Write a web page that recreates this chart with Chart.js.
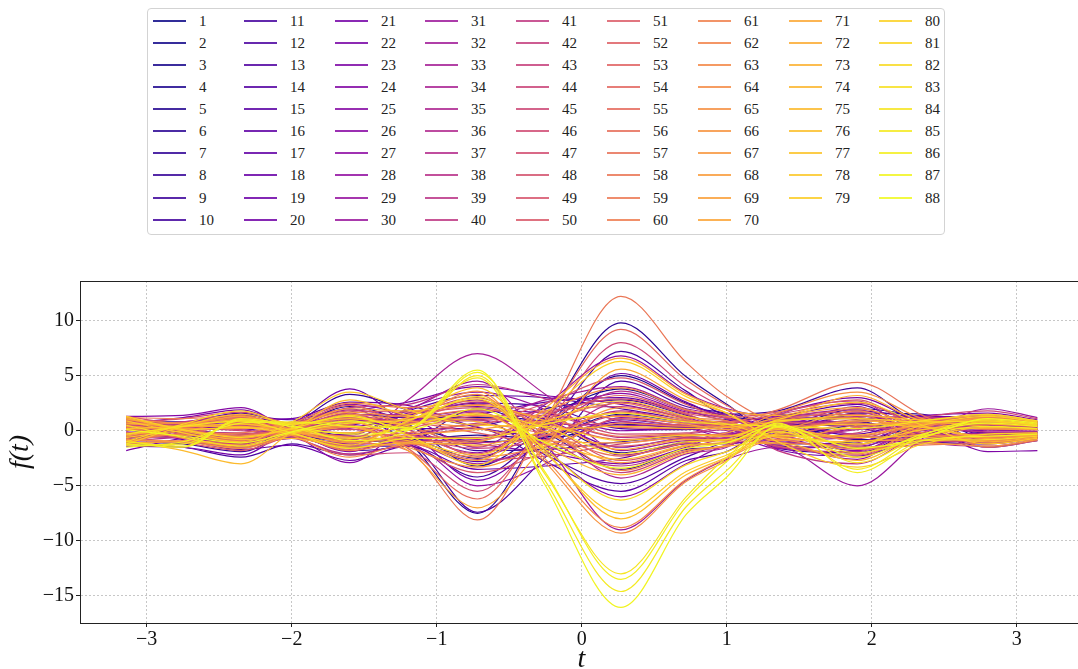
<!DOCTYPE html>
<html><head><meta charset="utf-8">
<script src="https://cdn.jsdelivr.net/npm/chart.js@4.4.1/dist/chart.umd.min.js"></script>
<style>
html,body{margin:0;padding:0;background:#fff;width:1078px;height:669px;overflow:hidden;}
#wrap{position:absolute;left:0;top:0;width:1100px;height:669px;}
#legend{position:absolute;left:147px;top:8px;width:798px;height:227px;border:1px solid #d3d3d3;border-radius:4px;background:#fff;font-family:'Liberation Serif',serif;font-size:15px;color:#222;box-sizing:border-box;}
.li{position:absolute;height:22px;width:88px;}
.ln{position:absolute;left:0;top:11px;width:33px;height:2px;opacity:0.85;}
.lt{position:absolute;left:46px;top:1px;line-height:22px;white-space:nowrap;}
</style></head><body>
<div id="wrap"><canvas id="c" width="1100" height="669"></canvas></div>
<div id="legend"></div>
<script>
// knot positions along t
const tKnots = [-3.1416,-2.75,-2.35,-2.0,-1.6,-1.2,-0.72,-0.25,0.27,0.72,1.0,1.35,1.9,2.35,2.8,3.1416];
const xTicks = [-3,-2,-1,0,1,2,3];
const yTicks = [-15,-10,-5,0,5,10];
const seriesLabels = ['1','2','3','4','5','6','7','8','9','10','11','12','13','14','15','16','17','18','19','20','21','22','23','24','25','26','27','28','29','30','31','32','33','34','35','36','37','38','39','40','41','42','43','44','45','46','47','48','49','50','51','52','53','54','55','56','57','58','59','60','61','62','63','64','65','66','67','68','69','70','71','72','73','74','75','76','77','78','79','80','81','82','83','84','85','86','87','88'];

const f1 = [0.2,-0.2,-0.6,0.1,0.8,0.4,-1.0,-0.6,1.5,0.8,0.6,-0.5,0.5,0.6,0.3,0.2];
const f2 = [-0.6,0.3,0.9,-0.2,-1.0,-0.9,-2.5,1.2,3.8,1.9,1.0,1.1,1.2,-0.4,-0.5,-0.3];
const f3 = [0.9,-0.3,-1.2,0.1,1.5,1.2,1.2,0.8,-2.0,-1.0,-0.5,-1.2,-1.0,0.5,0.8,0.5];
const f4 = [-0.3,0.1,0.4,0.2,-0.5,-0.8,-0.4,-0.7,0.6,0.3,0.4,0.3,2.0,1.2,-0.9,-0.6];
const f5 = [0.5,-0.6,-1.5,0.2,2.2,0.6,-3.2,0.3,5.0,2.5,1.3,0.9,-0.8,-0.8,0.6,0.4];
const f6 = [-0.5,-0.6,-0.8,0.1,1.0,-1.0,-7.5,0.8,9.8,4.9,2.4,-0.4,1.6,1.5,-0.7,-0.4];
const f7 = [0.8,0.8,1.1,-0.2,-1.8,-1.2,2.0,-0.2,-3.5,-1.7,-1.4,0.8,0.8,-0.3,1.0,0.6];
const f8 = [-1.0,-1.2,-1.9,0.4,3.3,1.9,0.5,2.0,2.8,1.4,0.3,-1.4,-1.5,0.4,-0.2,-0.1];
const f9 = [0.4,0.4,0.6,-0.1,-0.8,0.3,-1.8,-1.7,-1.0,-0.5,-0.8,1.5,1.0,-0.9,-1.2,-0.7];
const f10 = [-0.8,0.6,1.6,0.1,-1.4,-1.4,-4.2,0.2,7.2,3.6,1.5,1.8,3.9,0.9,0.9,0.5];
const f11 = [1.1,0.2,-0.3,0.1,0.5,1.4,2.5,2.2,0.2,0.1,0.5,-1.6,-2.0,0.4,1.3,0.8];
const f12 = [-1.2,-1.5,-2.4,-1.2,-2.2,-1.3,-7.4,-2.4,4.5,2.2,1.6,0.7,0.3,-1.1,-0.8,-0.5];
const f13 = [0.0,0.4,0.8,0.6,1.2,0.9,1.0,-2.2,-4.8,-2.4,-1.0,-0.3,1.8,1.1,0.5,0.3];
const f14 = [0.6,-0.3,-0.9,-0.4,-0.3,1.8,3.2,3.0,2.0,1.0,0.2,-1.0,-1.2,-0.2,-1.5,-0.9];
const f15 = [-0.4,0.6,1.4,1.0,2.0,0.2,0.2,-2.8,-5.5,-2.7,-1.9,0.5,-0.5,-0.6,1.1,0.7];
const f16 = [1.2,0.1,-0.5,-0.6,-1.5,-1.1,-2.8,-1.5,1.0,0.5,0.9,1.3,2.4,0.1,0.2,0.1];
const f17 = [-0.9,0.0,0.5,0.4,0.9,1.0,1.5,2.6,3.0,1.5,0.4,0.6,-0.3,1.0,-0.4,-0.2];
const f18 = [0.3,-0.8,-1.7,-1.3,-2.7,-1.4,-3.5,-3.2,-2.5,-1.2,-1.2,-0.2,1.4,0.3,0.7,0.4];
const f19 = [-0.2,0.4,1.0,1.1,2.6,2.3,0.3,-0.4,0.8,0.4,0.6,-1.7,-2.3,-0.8,-1.0,-0.6];
const f20 = [-1.4,-1.5,-2.2,0.5,3.8,0.3,-4.5,-0.6,5.2,2.6,1.1,0.2,0.9,1.3,1.2,0.7];
const f21 = [1.0,0.4,0.2,-0.3,-0.7,1.6,2.2,1.0,-1.5,-0.7,-0.9,0.4,-0.9,-1.0,-0.3,-0.2];
const f22 = [-1.8,-0.7,-0.4,0.4,1.7,2.6,4.0,3.2,2.4,1.2,0.3,1.6,3.0,0.8,0.4,0.2];
const f23 = [0.7,1.2,1.9,0.0,-1.9,-0.4,-1.2,-2.0,-3.0,-1.5,-0.3,-1.3,0.2,0.2,-1.9,-1.8];
const f24 = [-0.1,-0.6,-1.1,-0.3,0.3,1.1,1.8,1.6,0.0,0.2,-0.6,1.2,1.1,1.4,1.6,1.0];
const f25 = [1.3,1.4,2.1,-0.2,-2.9,0.6,2.8,-1.8,-6.0,-3.0,-1.3,-0.9,-1.8,0.3,0.0,0.1];
const f26 = [-0.7,0.1,0.7,0.5,1.1,-0.2,-2.0,1.3,3.4,1.7,1.2,0.5,2.2,-0.6,-0.6,-0.4];
const f27 = [0.5,-0.5,-1.3,-0.7,-1.2,-1.2,-5.0,-3.0,1.2,0.6,0.0,-1.6,-1.1,0.8,1.4,0.8];
const f28 = [-0.3,0.1,0.3,0.8,2.4,1.3,-1.5,2.4,6.8,3.4,2.0,1.3,1.5,-0.3,-1.1,-0.7];
const f29 = [0.9,-0.1,-0.7,-0.3,-0.4,2.0,3.5,1.9,-2.2,-1.1,-0.2,-1.1,-2.6,0.6,0.9,0.5];
const f30 = [-1.1,0.3,1.2,0.5,0.6,1.9,4.5,-1.2,-9.0,-4.5,-2.6,-1.5,-5.0,-0.7,2.0,1.2];
const f31 = [0.1,-0.1,-0.2,-0.5,-1.6,-0.9,-0.8,0.6,0.5,0.3,-0.3,0.9,0.6,-0.6,-0.8,-0.5];
const f32 = [1.2,-0.4,-1.6,0.1,1.9,1.2,1.0,2.8,4.0,2.0,1.4,-0.3,-1.4,0.0,0.4,0.2];
const f33 = [-0.6,0.3,0.9,0.0,-0.9,2.8,7.0,3.3,-1.8,-0.9,-0.8,1.0,1.9,-0.4,-0.2,-0.1];
const f34 = [0.3,0.8,1.5,0.5,0.2,-0.8,-3.0,-0.9,2.6,1.3,0.5,-0.8,-0.6,1.1,1.0,0.6];
const f35 = [-1.0,-0.6,-0.6,0.2,1.4,1.5,2.6,0.4,-4.3,-2.1,-1.5,1.4,2.7,-0.9,-1.4,-0.8];
const f36 = [0.8,0.3,0.1,-0.6,-2.1,-1.3,-1.1,-0.5,1.8,0.9,0.8,-0.6,0.1,0.7,0.6,0.4];
const f37 = [-0.2,-0.6,-1.0,-0.2,0.4,-0.3,0.7,0.9,-0.6,-0.3,0.1,-1.5,-1.9,0.2,-0.1,-0.1];
const f38 = [0.6,0.6,0.8,0.6,1.3,0.5,-2.3,0.1,3.6,1.8,1.1,0.0,1.3,1.2,1.2,0.7];
const f39 = [-0.9,-1.0,-1.4,-0.7,-1.1,0.7,1.7,-1.3,-3.2,-1.6,-0.6,0.6,-0.4,-1.0,-0.9,-0.5];
const f40 = [1.1,0.5,0.4,0.7,2.1,2.4,4.2,2.9,0.9,0.5,0.7,-1.8,-3.0,-0.2,0.5,0.3];
const f41 = [0.4,0.8,1.3,0.2,-0.6,-1.0,-2.6,-2.3,-1.2,-0.6,-0.7,1.1,1.7,-0.3,-0.6,-0.4];
const f42 = [-0.5,-0.6,-0.8,0.0,0.7,0.9,0.9,1.8,2.2,1.1,0.2,-0.2,-0.7,0.9,1.1,0.7];
const f43 = [1.0,0.3,0.0,-0.4,-1.3,1.2,3.0,-0.6,-3.8,-1.9,-1.4,0.7,0.7,-0.8,-1.0,-0.6];
const f44 = [-1.2,-1.0,-1.2,0.1,1.6,-0.3,-1.6,-0.8,1.4,0.7,0.7,1.5,2.5,0.6,0.3,0.2];
const f45 = [0.2,0.4,0.6,-0.5,-2.2,-2.0,-5.5,0.5,8.0,4.0,1.9,-0.9,-0.2,1.2,1.8,1.1];
const f46 = [0.7,1.1,1.7,0.6,0.1,0.6,1.3,1.4,-0.3,-0.2,0.3,-0.7,-1.6,-1.2,-0.4,-0.2];
const f47 = [-0.4,-0.4,-0.5,-0.4,-0.9,-0.6,-0.6,1.5,2.9,1.5,0.5,0.8,0.4,0.1,0.8,0.5];
const f48 = [1.3,0.6,0.5,0.7,1.8,1.7,2.1,0.5,-2.7,-1.3,-0.4,-1.4,-2.2,-0.3,-1.2,-0.7];
const f49 = [-0.8,-1.1,-1.8,-0.4,0.5,-1.3,-3.8,-1.9,1.1,0.5,0.6,0.1,1.0,0.8,0.1,0.1];
const f50 = [0.0,0.5,1.0,-0.2,-1.7,-0.5,0.4,2.5,4.8,2.4,1.2,1.7,2.8,0.0,-0.7,-0.4];
const f51 = [0.9,0.1,-0.3,0.2,1.0,0.8,-0.2,-1.2,-1.4,-0.7,-0.5,0.3,-0.9,-0.5,1.3,0.8];
const f52 = [-0.6,0.3,0.9,0.2,-0.2,1.0,2.4,1.7,0.3,0.2,0.6,-0.4,0.6,0.5,-1.5,-0.9];
const f53 = [1.1,-0.2,-1.0,0.4,2.3,0.1,-2.1,1.0,3.2,1.6,0.9,-1.0,-1.3,0.7,0.7,0.4];
const f54 = [-1.0,-0.2,0.3,-0.4,-1.4,0.2,1.1,0.6,-0.8,-0.4,-0.5,1.0,1.5,-0.5,-0.3,-0.2];
const f55 = [0.5,0.0,-0.4,0.1,0.8,-1.6,-6.2,1.0,9.2,4.6,2.3,0.4,0.8,1.0,0.9,0.5];
const f56 = [-0.3,0.5,1.2,0.2,-0.5,-0.2,0.6,-0.3,-2.3,-1.1,-0.9,-1.2,-2.4,0.6,1.5,0.9];
const f57 = [0.8,-0.2,-0.9,0.1,1.2,0.4,-1.4,-0.4,1.7,0.9,0.8,1.9,4.4,1.4,-0.8,-0.5];
const f58 = [-1.0,0.0,0.7,-0.1,-1.0,-1.8,-8.1,1.0,12.2,6.2,3.1,1.0,2.0,0.4,0.2,0.1];
const f59 = [0.3,-0.7,-1.5,-0.3,0.6,1.1,1.9,1.2,-0.5,-0.3,-0.4,-0.5,-1.7,-1.3,-1.1,-0.7];
const f60 = [1.2,1.1,1.4,-0.1,-1.8,-1.0,-0.9,0.9,2.5,1.2,0.9,-0.6,0.3,0.9,1.0,0.6];
const f61 = [-0.7,-0.3,-0.2,0.7,2.5,2.1,2.7,0.2,-3.6,-1.8,-1.3,0.9,1.2,-0.4,-0.5,-0.3];
const f62 = [0.1,0.3,0.6,-0.1,-0.8,-1.1,-2.4,-1.4,0.7,0.4,0.4,-0.1,-0.5,0.5,0.7,0.4];
const f63 = [-1.3,-0.9,-1.1,-0.1,0.9,1.5,3.3,-2.6,-8.8,-4.4,-2.5,-0.8,-2.1,0.3,1.2,0.7];
const f64 = [0.6,0.7,1.1,-0.4,-2.4,-1.2,-1.0,1.8,3.9,1.9,1.3,0.2,1.8,-0.2,-0.9,-0.5];
const f65 = [-0.2,-0.4,-0.7,0.2,1.5,0.9,0.2,-0.9,-1.1,-0.5,-0.2,1.6,3.5,1.1,0.4,0.2];
const f66 = [1.0,0.7,0.8,-0.1,-1.0,0.8,3.6,-2.9,-9.3,-4.6,-2.7,0.3,-0.9,-0.8,-0.6,-0.4];
const f67 = [-0.8,-1.0,-1.6,-0.4,0.3,-1.5,-3.3,-1.1,2.1,1.0,0.4,-0.9,0.5,0.7,0.9,0.5];
const f68 = [0.4,0.2,0.2,0.6,1.7,1.3,1.4,-0.1,-2.9,-1.4,-1.1,0.2,-1.5,-1.1,-1.4,-0.8];
const f69 = [-0.5,0.5,1.3,0.1,-1.1,-0.4,0.1,0.9,1.3,0.6,0.1,1.2,2.1,0.3,0.2,0.1];
const f70 = [1.1,0.1,-0.5,0.0,0.4,-1.8,-7.0,-1.3,5.6,2.8,1.6,-0.5,-0.4,0.6,1.1,0.7];
const f71 = [-1.1,-1.0,-1.3,0.2,2.0,1.8,2.3,0.9,-1.7,-0.8,-0.8,-0.3,0.9,0.4,-0.7,-0.4];
const f72 = [0.7,0.4,0.4,-0.1,-0.6,-0.9,-2.7,2.1,6.6,3.3,1.9,1.4,3.2,0.9,0.6,0.4];
const f73 = [-0.4,0.4,1.0,0.6,1.1,0.6,1.6,-1.5,-4.0,-2.0,-1.4,-1.1,-2.7,-0.6,-1.0,-0.6];
const f74 = [1.2,0.0,-0.8,-0.7,-1.5,-1.1,-1.3,-0.1,0.4,0.2,0.3,0.8,1.4,1.0,1.4,0.8];
const f75 = [-0.9,-1.8,-3.0,-0.1,2.8,1.4,0.8,-1.0,-2.6,-1.3,-1.0,0.1,-0.6,-0.4,0.3,0.2];
const f76 = [0.2,0.4,0.6,0.1,-0.2,1.2,3.9,-1.9,-8.0,-4.0,-2.4,-0.2,0.6,0.3,-0.5,-0.3];
const f77 = [-1.2,0.4,1.5,0.7,0.8,-0.7,-2.2,0.8,2.7,1.3,0.6,-0.6,-1.0,0.1,0.8,0.5];
const f78 = [0.9,-0.2,-1.0,0.8,3.5,1.9,0.5,0.4,-0.9,-0.4,-0.5,1.0,2.6,0.5,-1.2,-0.7];
const f79 = [-0.6,0.0,0.3,-0.3,-1.3,0.9,2.9,-2.1,-7.5,-3.7,-2.2,-0.4,-1.2,0.5,1.3,0.8];
const f80 = [1.3,0.1,-0.6,0.2,1.4,-0.4,-3.1,1.6,6.3,3.1,1.6,-1.0,-3.3,-1.2,-0.3,-0.2];
const f81 = [-1.0,0.6,1.8,0.3,-0.7,0.5,1.5,0.3,-2.1,-1.0,-0.8,0.9,1.1,0.8,0.9,0.5];
const f82 = [0.5,-0.6,-1.4,-0.2,0.7,1.0,3.1,-1.7,-6.3,-3.1,-1.9,-0.1,-2.0,-0.9,-0.8,-0.5];
const f83 = [-0.3,0.4,0.9,-0.2,-1.6,-0.7,-0.7,0.6,1.6,0.8,0.6,0.4,0.2,0.9,1.5,0.9];
const f84 = [-1.3,-1.2,0.9,0.6,1.3,0.2,5.0,-4.0,-13.0,-6.0,-2.4,0.6,-2.9,-0.5,0.4,0.2];
const f85 = [-1.0,-1.4,1.1,0.5,-0.9,0.0,4.8,-4.6,-14.6,-6.9,-3.6,0.3,-3.5,-0.4,1.0,0.6];
const f86 = [-1.5,-1.0,0.7,0.8,0.4,0.3,5.3,-3.8,-13.5,-6.3,-2.8,0.7,-3.8,-0.9,-0.5,-0.3];
const f87 = [-1.2,-1.5,1.0,0.4,-0.3,0.1,5.5,-5.0,-16.05,-7.6,-4.2,0.4,-2.4,-0.3,0.7,0.4];
const f88 = [0.1,-0.5,-1.1,-0.1,0.9,0.1,2.0,-1.1,-3.4,-1.6,-1.1,0.5,-1.6,-0.6,1.1,0.7];

const curves = [f1,f2,f3,f4,f5,f6,f7,f8,f9,f10,f11,f12,f13,f14,f15,f16,f17,f18,f19,f20,
  f21,f22,f23,f24,f25,f26,f27,f28,f29,f30,f31,f32,f33,f34,f35,f36,f37,f38,f39,f40,
  f41,f42,f43,f44,f45,f46,f47,f48,f49,f50,f51,f52,f53,f54,f55,f56,f57,f58,f59,f60,
  f61,f62,f63,f64,f65,f66,f67,f68,f69,f70,f71,f72,f73,f74,f75,f76,f77,f78,f79,f80,
  f81,f82,f83,f84,f85,f86,f87,f88];

// plasma colormap anchors (styling)
const plasmaStops = [[13,8,135],[65,4,157],[106,0,168],[143,13,164],[177,42,144],[204,71,120],[225,100,98],[242,132,75],[252,166,54],[252,206,37],[240,249,33]];
function plasma(v){
  const p = Math.max(0, Math.min(1, v)) * (plasmaStops.length - 1);
  const i = Math.min(Math.floor(p), plasmaStops.length - 2);
  const f = p - i;
  const a = plasmaStops[i], b = plasmaStops[i+1];
  const c = a.map((x,k)=>Math.round(x + (b[k]-x)*f));
  return 'rgb(' + c.join(',') + ')';
}

const FAMILY = "'Liberation Serif', 'DejaVu Serif', serif";
const fmt = v => (v < 0 ? '\u2212' + Math.abs(v) : String(v));

const datasets = curves.map((ys, i) => ({
  label: seriesLabels[i],
  data: tKnots.map((x, j) => ({x: x, y: ys[j]})),
  borderColor: plasma(i / (curves.length - 1)),
  backgroundColor: plasma(i / (curves.length - 1)),
  borderWidth: 1.2,
  pointRadius: 0,
  fill: false,
  cubicInterpolationMode: 'monotone',
  order: -i
}));

const topSpine = {
  id: 'topSpine',
  afterDraw(chart){
    const {ctx, chartArea} = chart;
    ctx.save();
    ctx.strokeStyle = '#222';
    ctx.lineWidth = 1;
    ctx.beginPath();
    ctx.moveTo(chartArea.left, Math.round(chartArea.top) + 0.5);
    ctx.lineTo(chartArea.right, Math.round(chartArea.top) + 0.5);
    ctx.moveTo(Math.round(chartArea.right) + 0.5, chartArea.top);
    ctx.lineTo(Math.round(chartArea.right) + 0.5, chartArea.bottom);
    ctx.stroke();
    ctx.restore();
  }
};

const gridCommon = {color: 'rgba(185,185,185,0.8)', lineWidth: 1, tickLength: 4, tickColor: '#222', tickWidth: 1, tickBorderDash: []};

const chart = new Chart(document.getElementById('c').getContext('2d'), {
  type: 'line',
  data: {datasets: datasets},
  plugins: [topSpine],
  options: {
    responsive: false,
    animation: false,
    devicePixelRatio: 1,
    layout: {padding: {left: 0, top: 281, right: 17, bottom: 0}},
    plugins: {legend: {display: false}, tooltip: {enabled: false}},
    scales: {
      x: {
        type: 'linear', min: -3.46, max: 3.456,
        afterFit(s){ s.height = 46; },
        afterBuildTicks(s){ s.ticks = xTicks.map(v => ({value: v})); },
        ticks: {callback: fmt, font: {family: FAMILY, size: 20}, color: '#111', padding: 1, maxRotation: 0, autoSkip: false},
        grid: gridCommon,
        border: {display: true, color: '#222', width: 1, dash: [2, 2]},
        title: {display: true, text: 't', color: '#111', font: {family: FAMILY, size: 28, style: 'italic', lineHeight: 1}, padding: {top: 0, bottom: -5}}
      },
      y: {
        type: 'linear', min: -17.46, max: 13.6,
        afterFit(s){ s.width = 80; },
        afterBuildTicks(s){ s.ticks = yTicks.map(v => ({value: v})); },
        ticks: {callback: fmt, font: {family: FAMILY, size: 20}, color: '#111', padding: 2},
        grid: gridCommon,
        border: {display: true, color: '#222', width: 1, dash: [2, 2]},
        title: {display: true, text: 'f(t)', color: '#111', font: {family: FAMILY, size: 28, style: 'italic', lineHeight: 1}, padding: {top: 7, bottom: 0}}
      }
    }
  }
});

// HTML legend built from the chart's datasets, column-major like the reference
(function buildLegend(){
  const box = document.getElementById('legend');
  const n = chart.data.datasets.length;
  const nCols = 9;
  const nRows = Math.ceil(n / nCols);
  const full = n - (nRows - 1) * nCols;
  let idx = 0;
  for (let c = 0; c < nCols; c++) {
    const rows = c < full ? nRows : nRows - 1;
    for (let r = 0; r < rows; r++, idx++) {
      const ds = chart.data.datasets[idx];
      const item = document.createElement('div');
      item.className = 'li';
      item.style.left = Math.round(5 + c * 90.8) + 'px';
      item.style.top = Math.round(r * 22.07) + 'px';
      const ln = document.createElement('div');
      ln.className = 'ln';
      ln.style.background = ds.borderColor;
      const lt = document.createElement('div');
      lt.className = 'lt';
      lt.textContent = ds.label;
      item.appendChild(ln); item.appendChild(lt);
      box.appendChild(item);
    }
  }
})();
</script>
</body></html>
